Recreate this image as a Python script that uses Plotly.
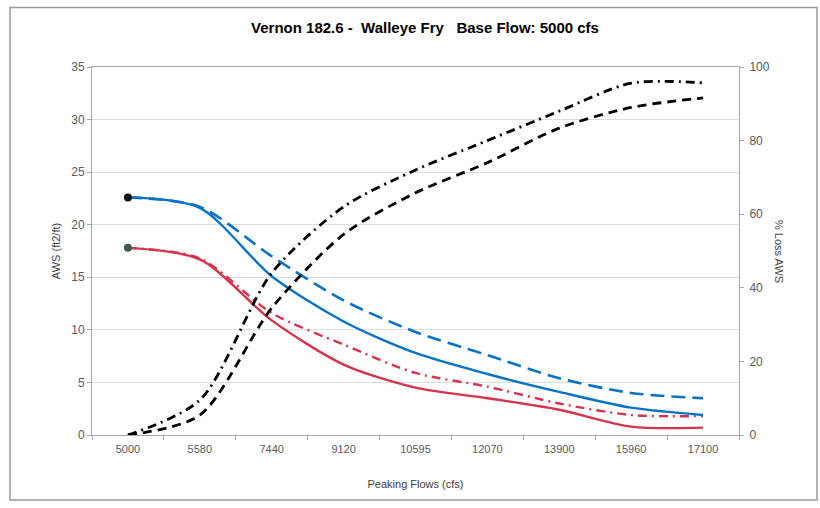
import plotly.graph_objects as go

flows = ["5000", "5580", "7440", "9120", "10595", "12070", "13900", "15960", "17100"]
aws_blue_solid = [22.6, 21.6, 15.1, 10.8, 7.8, 5.8, 4.1, 2.6, 1.9]
aws_blue_dash = [22.6, 21.7, 17.0, 12.8, 9.8, 7.6, 5.4, 4.0, 3.5]
aws_red_solid = [17.8, 16.7, 10.9, 6.7, 4.5, 3.5, 2.4, 0.8, 0.7]
aws_red_dashdot = [17.8, 16.8, 11.6, 8.6, 5.9, 4.6, 3.0, 1.9, 1.8]
loss_dashdot = [0, 9.5, 44, 62.0, 72, 80, 88, 95.6, 95.7]
loss_dash = [0, 5.4, 34.5, 54.5, 65.8, 74, 83.4, 89, 91.6]

left_ticks = [0, 5, 10, 15, 20, 25, 30, 35]
right_ticks = [0, 20, 40, 60, 80, 100]

BLUE = "#0a72c4"
RED = "#d5344f"
FONT = "Liberation Sans Narrow, Arial Narrow, Liberation Sans, Arial, sans-serif"
TICKC = "#595959"

fig = go.Figure()

def add_line(y, color, dash, width, yaxis="y"):
    fig.add_trace(go.Scatter(
        x=flows, y=y, mode="lines", yaxis=yaxis,
        line=dict(color=color, dash=dash, width=width, shape="spline", smoothing=0.8),
        showlegend=False, hoverinfo="skip"))

add_line(loss_dashdot, "#000000", "9px,5px,2px,5px", 2.8, "y2")
add_line(loss_dash, "#000000", "9px,6px", 2.8, "y2")
add_line(aws_blue_dash, BLUE, "14px,7px", 2.6)
add_line(aws_red_dashdot, RED, "9px,5px,2px,5px", 2.4)
add_line(aws_blue_solid, BLUE, "solid", 2.4)
add_line(aws_red_solid, RED, "solid", 2.4)

fig.add_trace(go.Scatter(x=flows[:1], y=aws_blue_solid[:1], mode="markers",
                         marker=dict(color="#111111", size=8), showlegend=False, hoverinfo="skip"))
fig.add_trace(go.Scatter(x=flows[:1], y=aws_red_solid[:1], mode="markers",
                         marker=dict(color="#3b5a4c", size=8), showlegend=False, hoverinfo="skip"))

W, H = 820, 508
L, R, T, B = 92, 739, 67, 435

def px_x(px):
    return (px - L) / (R - L)

def px_y(py):
    return (B - py) / (B - T)

fig.update_layout(
    width=W, height=H,
    margin=dict(l=L, r=W - R, t=T, b=H - B, autoexpand=False),
    paper_bgcolor="white", plot_bgcolor="white",
    font=dict(family=FONT, size=11, color=TICKC),
    title=dict(text="<b>Vernon 182.6 -  Walleye Fry   Base Flow: 5000 cfs</b>",
               x=px_x(425), xref="paper", xanchor="center",
               y=1 - 28 / H, yanchor="middle",
               font=dict(family=FONT, size=15, color="#000000")),
    xaxis=dict(type="category", categoryorder="array", categoryarray=flows,
               range=[-0.5, len(flows) - 0.5],
               showline=True, linecolor="#a6a6a6", linewidth=1, mirror=True,
               ticks="outside", tickson="boundaries", ticklen=4, tickcolor="#a6a6a6",
               showgrid=False, tickfont=dict(size=11, color=TICKC), ticklabelstandoff=4,
               title=dict(text="Peaking Flows (cfs)", standoff=26,
                          font=dict(size=11, color="#404040"))),
    yaxis=dict(range=[0, 35], tickvals=left_ticks, showline=True, linecolor="#a6a6a6",
               linewidth=1, ticks="outside", ticklen=4, tickcolor="#a6a6a6",
               showgrid=True, gridcolor="#dcdcdc", gridwidth=1, zeroline=False,
               tickfont=dict(size=12, color=TICKC),
               title=dict(text="AWS (ft2/ft)", standoff=8, font=dict(size=11, color="#404040"))),
    yaxis2=dict(range=[0, 100], tickvals=right_ticks, overlaying="y", side="right",
                showline=True, linecolor="#a6a6a6", linewidth=1, ticks="outside",
                ticklen=4, tickcolor="#a6a6a6", showgrid=False, zeroline=False,
                tickfont=dict(size=12, color=TICKC), ticklabelstandoff=3),
    annotations=[dict(text="% Loss AWS", xref="paper", yref="paper",
                      x=px_x(787), y=px_y(251), textangle=90, showarrow=False,
                      font=dict(size=11, color="#404040"))],
    shapes=[dict(type="rect", xref="paper", yref="paper",
                 x0=px_x(10), x1=px_x(817), y0=px_y(7.5), y1=px_y(500),
                 line=dict(color="#9a9a9a", width=1.5), layer="below")],
)

fig.write_html("out.html", config={"displayModeBar": False},
               post_script="document.body.style.margin='0px';document.body.style.overflow='hidden';")
